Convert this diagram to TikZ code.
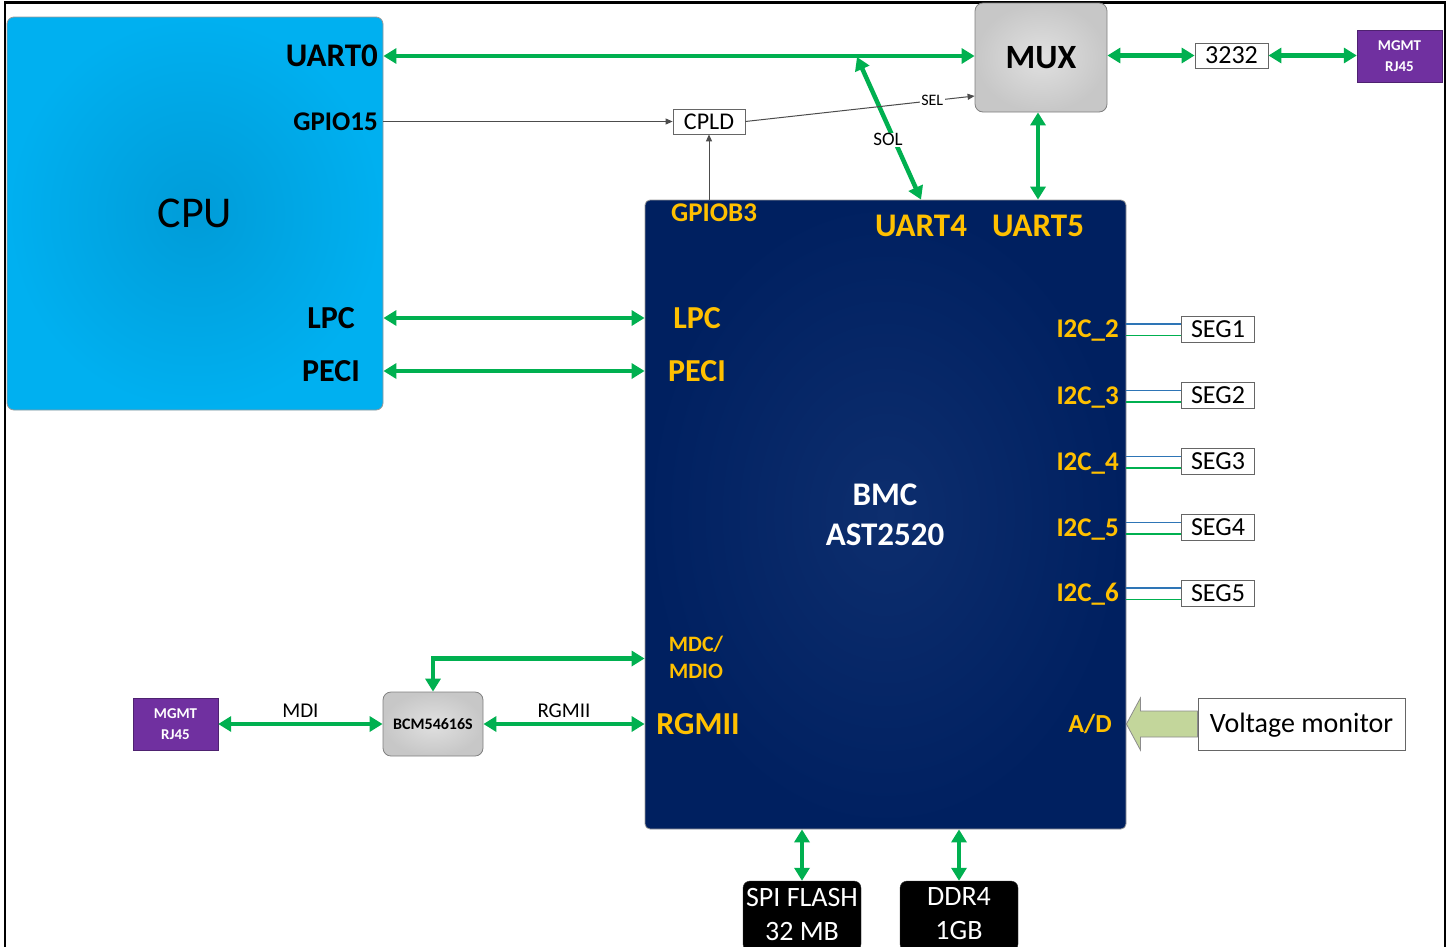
\documentclass[tikz,border=0pt]{standalone}
\usepackage{fontspec}
\setmainfont{Carlito}
\usetikzlibrary{arrows.meta,calc}
\definecolor{grn}{HTML}{00B050}
\definecolor{ylw}{HTML}{FFC000}
\definecolor{navy}{HTML}{002060}
\definecolor{navyc}{HTML}{0D2E6E}
\definecolor{purp}{HTML}{7030A0}
\definecolor{cpuo}{HTML}{00B0F0}
\definecolor{cpui}{HTML}{009CD8}
\definecolor{olivefill}{HTML}{C3D69B}
\definecolor{i2cblue}{HTML}{2E75B6}
\newcommand\fsz[2]{\fontsize{#1}{#2}\selectfont}
\tikzset{
  bt/.tip={Triangle[length=13pt,width=15pt]},
  st/.tip={Triangle[length=7pt,width=6pt]},
  bus/.style={draw=grn, line width=4.5pt, bt-bt},
  sig/.style={draw=black!70, line width=1pt, -st},
  th/.style={text height=\fpeval{0.63*#1}pt, text depth=0pt},
  ylbl/.style={inner sep=0pt, th=#1, text=ylw, font=\fsz{#1}{#1}\bfseries},
  blbl/.style={inner sep=0pt, th=#1, text=black, font=\fsz{#1}{#1}\bfseries},
  plbl/.style={inner sep=0pt, th=#1, text=black, font=\fsz{#1}{#1}},
  wbox/.style={draw=black!60, fill=white, line width=0.8pt, inner sep=0pt, th=#1, font=\fsz{#1}{#1}},
  graybox/.style={draw=black!50, line width=0.8pt, rounded corners=8pt, inner color=black!12, outer color=black!22, inner sep=0pt},
  mgmtbox/.style={draw=purp!70!black, fill=purp, minimum width=85pt, minimum height=52pt, inner sep=0pt, align=center, text=white, font=\fsz{15}{21}\bfseries},
  memb/.style={fill=black, draw=black!80, rounded corners=7pt, minimum width=118pt, minimum height=70pt, inner sep=0pt},
  memt/.style={inner sep=0pt, align=center, text=white, font=\fsz{28}{34}},
  i2cb/.style={draw=i2cblue, line width=1.2pt},
  i2cg/.style={draw=grn, line width=1.2pt},
}
\begin{document}
\begin{tikzpicture}[x=1pt,y=-1pt]
\useasboundingbox (0,0) rectangle (1450,946);
\clip (0,0) rectangle (1450,946);
\fill[white] (0,0) rectangle (1450,946);
\draw[line width=2.2pt] (5,2.5) rectangle (1445,980);

% CPU
\node[draw=black!40, line width=0.8pt, rounded corners=7pt, inner color=cpui, outer color=cpuo,
      minimum width=376pt, minimum height=393pt, inner sep=0pt, font=\fsz{44}{44}] (cpu) at (195,213.5) {CPU};
\node[blbl=33, anchor=east] (uart0) at (378,56) {UART0};
\node[blbl=27, anchor=east] (gpio15) at (378,122) {GPIO15};
\node[blbl=32] (lpcL) at (331,318) {LPC};
\node[blbl=32] (peciL) at (331,371) {PECI};

% BMC
\node[draw=black!40, line width=0.8pt, rounded corners=5pt, inner color=navyc, outer color=navy,
      minimum width=481pt, minimum height=629pt, inner sep=0pt] (bmc) at (885.5,514.5) {};
\node[text=white, font=\fsz{33}{40}\bfseries, align=center, inner sep=0pt] (bmct) at (885,515) {BMC\\AST2520};
\node[ylbl=27] (gpiob3) at (714,213) {GPIOB3};
\node[ylbl=33] (uart4) at (921,226) {UART4};
\node[ylbl=33] (uart5) at (1038,226) {UART5};
\node[ylbl=32] (lpcR) at (697,318) {LPC};
\node[ylbl=32] (peciR) at (697,371) {PECI};
\node[ylbl=22] (mdc) at (696,645) {MDC/};
\node[ylbl=22] (mdio) at (696,672) {MDIO};
\node[ylbl=32] (rgmiiR) at (698,724) {RGMII};
\node[ylbl=26] (ad) at (1090,724) {A/D};

% top right
\node[graybox, minimum width=132pt, minimum height=109pt, font=\fsz{34}{34}\bfseries] (mux) at (1041,57.5) {MUX};
\node[wbox=26, minimum width=73pt, minimum height=25pt] (x3232) at (1231.5,55.5) {3232};
\node[mgmtbox] (mgmt1) at (1399.5,56) {MGMT\\RJ45};
\node[wbox=24, minimum width=72pt, minimum height=25pt] (cpld) at (709,121.5) {CPLD};

% buses top
\draw[bus] (uart0.east -| cpu.east) -- (uart0.east -| mux.west);
\coordinate (solt) at (857,57);
\draw[bus] (solt) -- (bmc.north -| uart4);
\node[plbl=19, fill=white, inner sep=1.5pt] (sol) at (888,140) {SOL};
\draw[bus] (mux.south -| uart5) -- (bmc.north -| uart5);
\draw[bus] (mux.east |- x3232.west) -- (x3232.west);
\draw[bus] (x3232.east) -- (x3232.east -| mgmt1.west);

% control signals
\draw[sig] (cpu.east |- cpld.west) -- (cpld.west);
\draw[sig] (bmc.north -| cpld.south) -- (cpld.south);
\coordinate (selend) at ($(mux.west)+(0,38.5)$);
\draw[sig] (cpld.east) -- (selend) node[pos=0.815, fill=white, inner sep=1.5pt, text=black, th=16, font=\fsz{16}{16}] (sel) {SEL};

% LPC / PECI
\draw[bus] (cpu.east |- lpcL) -- (bmc.west |- lpcL);
\draw[bus] (cpu.east |- peciL) -- (bmc.west |- peciL);

% I2C
\foreach \i/\y in {1/329,2/395.5,3/461.5,4/527.5,5/593}{
  \node[wbox=26, minimum width=73pt, minimum height=26pt] (seg\i) at (1218,\y) {SEG\i};
  \draw[i2cb] ([yshift=5pt]seg\i.west) -- ([yshift=5pt]seg\i.west -| bmc.east);
  \draw[i2cg] ([yshift=-6.5pt]seg\i.west) -- ([yshift=-6.5pt]seg\i.west -| bmc.east);
}
\foreach \n/\y in {2/329,3/395.5,4/461.5,5/527.5,6/593}{
  \node[ylbl=27, anchor=east] (i2c\n) at (1119,\y) {I2C\_\n};
}

% lower left
\node[graybox, minimum width=100pt, minimum height=64pt, font=\fsz{16}{16}\bfseries] (bcm) at (433,724) {BCM54616S};
\node[mgmtbox] (mgmt2) at (175.5,724) {MGMT\\RJ45};
\coordinate (mdcy) at ($(mdc)!0.5!(mdio)$);
\draw[bus] (bcm.north) |- (bmc.west |- mdcy);
\draw[bus] (bcm.east) -- (bcm.east -| bmc.west) node[midway, above=4pt, plbl=21] (rgmiil) {RGMII};
\draw[bus] (mgmt2.east) -- (bcm.west) node[midway, above=4pt, plbl=21] (mdil) {MDI};

% voltage monitor
\node[wbox=28, minimum width=207pt, minimum height=52pt] (volt) at (1301.5,724) {Voltage monitor};
\coordinate (adtip) at (bmc.east |- volt.west);
\draw[draw=black!45, line width=0.8pt, fill=olivefill]
  ($(volt.west)+(0,-13)$) -- ($(adtip)+(14,-13)$) -- ($(adtip)+(14,-26)$) -- (adtip)
  -- ($(adtip)+(14,26)$) -- ($(adtip)+(14,13)$) -- ($(volt.west)+(0,13)$) -- cycle;

% memory
\node[memb] (spi) at (802,916) {};
\node[memt] (spit) at (802,914) {SPI FLASH\\32 MB};
\node[memb] (ddr) at (959,916) {};
\node[memt] (ddrt) at (959,914) {DDR4\\1GB};
\draw[bus] (bmc.south -| spi.north) -- (spi.north);
\draw[bus] (bmc.south -| ddr.north) -- (ddr.north);
\end{tikzpicture}
\end{document}
